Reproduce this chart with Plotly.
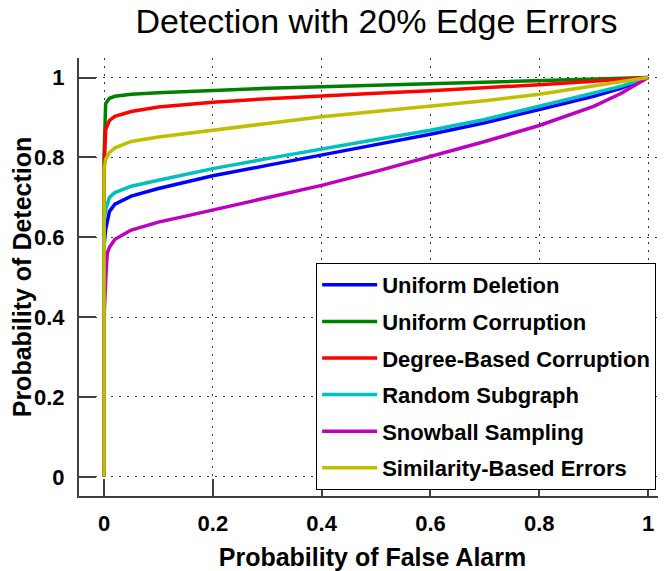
import plotly.graph_objects as go

# ROC curves
names = ["Uniform Deletion", "Uniform Corruption", "Degree-Based Corruption",
         "Random Subgraph", "Snowball Sampling", "Similarity-Based Errors"]
colors = ["#0000ff", "#008000", "#ff0000", "#00bfbf", "#bf00bf", "#bfbf00"]

pfa = [0, 0, 0.003, 0.01, 0.02, 0.05, 0.1, 0.15, 0.2, 0.3, 0.4,
       0.5, 0.6, 0.7, 0.8, 0.9, 0.95, 1.0]

pd_uniform_deletion = [0, 0.58, 0.62, 0.665, 0.683, 0.703, 0.722, 0.738, 0.754, 0.78, 0.805,
                       0.832, 0.858, 0.887, 0.92, 0.953, 0.973, 1.0]
pd_uniform_corruption = [0, 0.80, 0.935, 0.948, 0.953, 0.958, 0.962, 0.965, 0.968, 0.973, 0.977,
                         0.981, 0.985, 0.988, 0.991, 0.995, 0.997, 1.0]
pd_degree_corruption = [0, 0.76, 0.87, 0.893, 0.903, 0.915, 0.926, 0.933, 0.938, 0.947, 0.955,
                        0.961, 0.967, 0.974, 0.982, 0.991, 0.995, 1.0]
pd_random_subgraph = [0, 0.64, 0.67, 0.70, 0.712, 0.728, 0.743, 0.757, 0.772, 0.797, 0.822,
                      0.845, 0.868, 0.895, 0.928, 0.960, 0.978, 1.0]
pd_similarity = [0, 0.77, 0.795, 0.812, 0.824, 0.84, 0.851, 0.86, 0.868, 0.885, 0.902,
                 0.915, 0.928, 0.942, 0.958, 0.978, 0.989, 1.0]

# snowball curve leaves the y axis a little later
pfa_snowball = [0, 0, 0.004, 0.006, 0.01, 0.02, 0.05, 0.1, 0.15, 0.2, 0.3, 0.4,
                0.5, 0.6, 0.7, 0.8, 0.9, 0.95, 1.0]
pd_snowball = [0, 0.40, 0.52, 0.56, 0.575, 0.595, 0.618, 0.638, 0.653, 0.668, 0.698, 0.73,
               0.765, 0.802, 0.84, 0.88, 0.928, 0.96, 1.0]

xs = [pfa, pfa, pfa, pfa, pfa_snowball, pfa]
ys = [pd_uniform_deletion, pd_uniform_corruption, pd_degree_corruption,
      pd_random_subgraph, pd_snowball, pd_similarity]

ticks = [0, 0.2, 0.4, 0.6, 0.8, 1]
tick_text = ["0", "0.2", "0.4", "0.6", "0.8", "1"]

FONT = "Liberation Sans"
AXIS_COL = "#404040"

# the page puts the figure 8px in from the top-left corner
W, H = 658, 563

fig = go.Figure()
for name, col, x, y in zip(names, colors, xs, ys):
    fig.add_trace(go.Scatter(x=x, y=y, mode="lines", name=name, legendgroup=name,
                             line=dict(color=col, width=3.5)))

axis_common = dict(
    tickvals=ticks, ticktext=tick_text,
    ticks="inside", ticklen=17, tickwidth=1.5, tickcolor=AXIS_COL,
    showline=True, linecolor=AXIS_COL, linewidth=2,
    showgrid=True, gridcolor="#333333", gridwidth=1, griddash="2px,6px",
    zeroline=False, automargin=False,
    tickfont=dict(family=FONT, size=22, color="black", weight="bold"),
)

fig.update_layout(
    width=W, height=H,
    margin=dict(l=71, r=0, t=50, b=75),
    paper_bgcolor="white", plot_bgcolor="white",
    title=dict(text="Detection with 20% Edge Errors", x=0.56, xref="container",
               xanchor="center", y=1 - 1 / H, yref="container", yanchor="top",
               font=dict(family=FONT, size=34, color="black")),
    xaxis=dict(range=[-0.046, 1.033], ticklabelstandoff=7,
               title=dict(text="Probability of False Alarm", standoff=14,
                          font=dict(family=FONT, size=25, color="black", weight="bold")),
               **axis_common),
    yaxis=dict(range=[-0.048, 1.049], ticklabelstandoff=8,
               title=dict(text="Probability of Detection", standoff=18,
                          font=dict(family=FONT, size=25, color="black", weight="bold")),
               **axis_common),
    legend=dict(x=0.404, y=0.532, xanchor="left", yanchor="top",
                bgcolor="white", bordercolor="black", borderwidth=1,
                font=dict(family=FONT, size=22, color="black", weight="bold"),
                tracegroupgap=5, itemwidth=55),
    showlegend=True,
)

fig.write_html("out.html")
